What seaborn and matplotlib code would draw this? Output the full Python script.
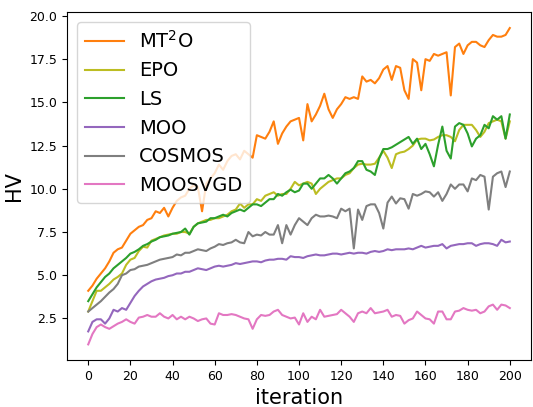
import numpy as np
import pandas as pd
import matplotlib
matplotlib.use('Agg')
import matplotlib.pyplot as plt
import seaborn as sns

# iterations logged every 2 steps
iterations = list(range(0, 201, 2))

mt2o = [4.1, 4.4, 4.8, 5.1, 5.4, 5.8, 6.3, 6.5, 6.6, 7.0,
        7.4, 7.6, 7.8, 7.9, 8.2, 8.3, 8.7, 8.6, 8.9, 8.4,
        8.9, 9.3, 9.5, 9.6, 10.0, 10.2, 10.1, 8.7, 10.3, 10.6,
        10.9, 11.4, 11.1, 11.6, 11.9, 12.0, 11.7, 12.2, 12.0, 11.8,
        13.1, 13.0, 12.9, 13.3, 13.9, 12.6, 13.2, 13.6, 13.9, 14.0,
        14.1, 12.8, 14.9, 13.9, 14.3, 14.8, 15.5, 14.6, 14.1, 14.6,
        14.9, 15.3, 15.2, 15.3, 15.2, 16.5, 16.2, 16.3, 16.1, 16.4,
        16.9, 17.1, 16.3, 17.1, 17.0, 15.7, 15.2, 17.5, 17.3, 15.7,
        17.5, 17.4, 17.8, 17.7, 17.8, 17.9, 15.4, 18.2, 18.4, 17.8,
        18.3, 18.5, 18.5, 18.3, 18.2, 18.6, 18.9, 18.8, 18.8, 18.9,
        19.3]

epo = [2.9, 3.5, 4.1, 4.1, 4.3, 4.5, 4.75, 4.9, 5.1, 5.6,
       5.9, 6.0, 6.4, 6.65, 6.6, 7.0, 7.1, 7.2, 7.3, 7.35,
       7.4, 7.4, 7.5, 7.5, 7.4, 7.8, 8.0, 8.1, 8.2, 8.2,
       8.3, 8.3, 8.4, 8.5, 8.7, 8.8, 9.15, 8.9, 9.1, 9.1,
       9.4, 9.3, 9.6, 9.7, 9.8, 9.6, 9.7, 9.7, 10.0, 10.4,
       10.2, 10.3, 10.4, 10.3, 9.7, 10.0, 10.2, 10.4, 10.5, 10.6,
       10.6, 10.8, 10.9, 11.2, 11.4, 11.45, 11.4, 11.4, 11.45, 11.8,
       12.2, 11.8, 11.2, 12.0, 12.1, 12.15, 12.3, 12.5, 12.85, 12.9,
       12.9, 12.8, 12.85, 13.0, 13.1, 13.1, 13.0, 12.75, 13.4, 13.7,
       13.7, 13.7, 13.4, 13.0, 13.3, 13.8, 13.9, 14.0, 13.9, 12.9,
       13.9]

ls = [3.5, 3.9, 4.3, 4.6, 4.9, 5.1, 5.4, 5.6, 5.8, 6.0,
      6.25, 6.35, 6.5, 6.7, 6.8, 6.95, 7.05, 7.2, 7.25, 7.3,
      7.4, 7.45, 7.5, 7.7, 7.35, 7.8, 8.0, 8.05, 8.1, 8.3,
      8.3, 8.4, 8.5, 8.4, 8.6, 8.7, 8.8, 8.7, 8.9, 9.1,
      9.1, 9.0, 9.2, 9.4, 9.4, 9.7, 9.6, 9.8, 9.95, 9.8,
      9.9, 10.3, 10.3, 10.0, 10.3, 10.6, 10.6, 10.8, 10.6, 10.3,
      10.6, 10.9, 11.0, 11.2, 11.6, 11.6, 11.1, 11.0, 10.8, 11.75,
      12.3, 12.3, 12.4, 12.55, 12.7, 12.85, 13.0, 12.6, 12.9, 12.3,
      12.6, 12.0, 11.3, 12.55, 13.6, 12.2, 11.75, 13.6, 13.8, 13.7,
      13.2, 12.45, 12.9, 13.1, 13.7, 13.5, 14.2, 14.0, 14.2, 12.9,
      14.3]

moo = [1.75, 2.3, 2.45, 2.45, 2.2, 2.5, 3.0, 2.9, 3.1, 3.0,
       3.4, 3.8, 4.1, 4.35, 4.5, 4.65, 4.75, 4.8, 4.85, 4.95,
       5.0, 5.1, 5.1, 5.2, 5.2, 5.3, 5.4, 5.35, 5.3, 5.4,
       5.5, 5.55, 5.5, 5.55, 5.6, 5.7, 5.65, 5.7, 5.75, 5.8,
       5.8, 5.75, 5.85, 5.9, 5.9, 5.95, 5.95, 5.9, 6.1, 6.05,
       6.05, 6.0, 6.1, 6.15, 6.2, 6.15, 6.15, 6.2, 6.25, 6.25,
       6.2, 6.25, 6.3, 6.25, 6.3, 6.3, 6.25, 6.35, 6.4, 6.35,
       6.4, 6.5, 6.45, 6.5, 6.5, 6.5, 6.55, 6.5, 6.6, 6.7,
       6.6, 6.65, 6.7, 6.7, 6.8, 6.55, 6.7, 6.75, 6.8, 6.8,
       6.85, 6.85, 6.7, 6.8, 6.85, 6.85, 6.8, 6.7, 7.05, 6.9,
       6.95]

cosmos = [2.9, 3.1, 3.3, 3.5, 3.75, 4.0, 4.2, 4.5, 5.0, 5.1,
          5.3, 5.35, 5.5, 5.55, 5.6, 5.7, 5.8, 5.9, 5.95, 6.0,
          6.05, 6.2, 6.15, 6.3, 6.3, 6.4, 6.5, 6.45, 6.4, 6.55,
          6.65, 6.8, 6.75, 6.85, 6.9, 7.05, 6.9, 6.85, 7.5, 7.25,
          7.35, 7.3, 7.5, 7.35, 7.35, 7.9, 6.85, 7.9, 7.35, 7.9,
          8.3, 8.1, 7.9, 8.3, 8.5, 8.4, 8.4, 8.45, 8.4, 8.3,
          8.85, 8.7, 8.85, 6.55, 8.8, 8.2, 9.0, 9.1, 9.1, 8.6,
          7.7, 9.2, 9.55, 9.15, 9.45, 9.4, 8.85, 9.7, 9.6, 9.7,
          9.85, 9.8, 9.55, 9.8, 9.3, 9.7, 10.25, 10.0, 10.25, 10.25,
          9.85, 10.6, 10.5, 10.8, 10.7, 8.8, 10.7, 10.9, 11.0, 10.1,
          11.0]

moosvgd = [1.0, 1.6, 2.0, 2.15, 2.0, 1.9, 2.05, 2.2, 2.3, 2.45,
           2.3, 2.2, 2.55, 2.6, 2.7, 2.6, 2.6, 2.8, 2.6, 2.5,
           2.7, 2.45, 2.6, 2.45, 2.6, 2.5, 2.35, 2.45, 2.5, 2.2,
           2.15, 2.8, 2.7, 2.7, 2.75, 2.7, 2.6, 2.5, 2.45, 1.9,
           2.45, 2.7, 2.65, 2.7, 2.9, 3.0, 2.7, 2.6, 2.5, 2.55,
           2.15, 2.8, 2.3, 2.6, 2.45, 3.0, 2.6, 2.65, 2.7, 2.75,
           3.0, 2.8, 2.6, 2.3, 2.8, 2.9, 2.8, 3.1, 2.8, 2.85,
           2.9, 3.0, 2.6, 2.7, 2.65, 2.2, 2.4, 2.5, 2.9, 2.7,
           2.5, 2.45, 2.2, 2.9, 2.9, 2.45, 2.45, 2.9, 2.95, 3.1,
           3.0, 2.95, 3.0, 2.8, 2.9, 3.2, 3.3, 3.0, 3.3, 3.25,
           3.1]

methods = ['MT$^2$O', 'EPO', 'LS', 'MOO', 'COSMOS', 'MOOSVGD']
colors = ['#ff7f0e', '#bcbd22', '#2ca02c', '#9467bd', '#7f7f7f', '#e377c2']

# long-form table for seaborn
series = [mt2o, epo, ls, moo, cosmos, moosvgd]
frames = []
for name, vals in zip(methods, series):
    frames.append(pd.DataFrame({'iteration': iterations, 'HV': vals, 'method': name}))
df = pd.concat(frames, ignore_index=True)

fig = plt.figure(figsize=(5.33, 4.07), dpi=100)
ax = fig.add_axes([0.126, 0.115, 0.870, 0.855])

sns.lineplot(data=df, x='iteration', y='HV', hue='method', hue_order=methods,
             palette=colors, linewidth=1.5, ax=ax)

ax.set_xticks(range(0, 201, 20))
ax.set_yticks([2.5, 5.0, 7.5, 10.0, 12.5, 15.0, 17.5, 20.0])
ax.tick_params(labelsize=9)
ax.set_xlabel('iteration', fontsize=15)
ax.set_ylabel('HV', fontsize=15)
ax.legend(loc='upper left', fontsize=14)

fig.savefig('out.png', dpi=100)
